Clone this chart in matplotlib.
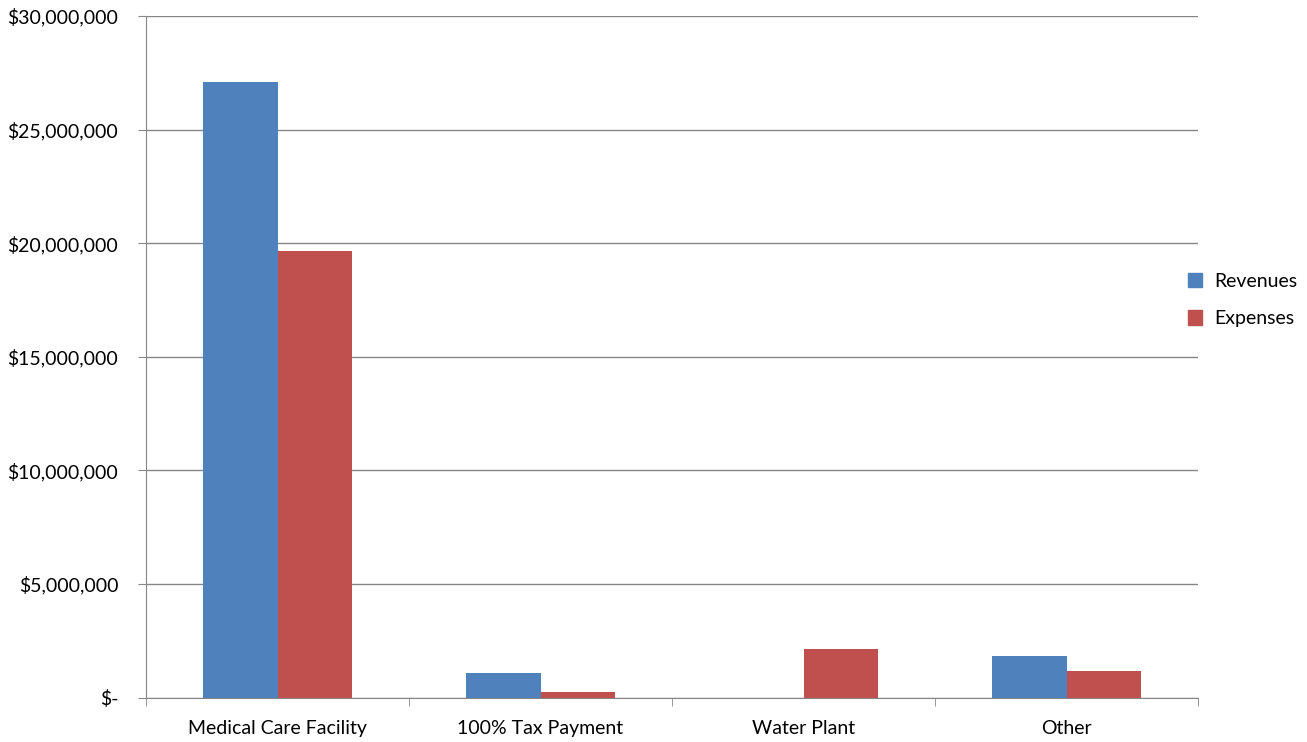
import matplotlib
matplotlib.use("Agg")
import matplotlib.pyplot as plt
import numpy as np
from matplotlib.patches import Patch

categories = ["Medical Care Facility", "100% Tax Payment", "Water Plant", "Other"]
revenues = [27100000, 1090000, 0, 1840000]
expenses = [19650000, 230000, 2140000, 1180000]
yticks = [0, 5000000, 10000000, 15000000, 20000000, 25000000, 30000000]
ytick_labels = ["$-", "$5,000,000", "$10,000,000", "$15,000,000", "$20,000,000", "$25,000,000", "$30,000,000"]

plt.rcParams['font.family'] = ['Lato', 'DejaVu Sans']
fig = plt.figure(figsize=(13.07, 7.42), dpi=100)
ax = fig.add_axes([146/1307, 1-697.5/742, (1198-146)/1307, (697.5-16)/742])

x = np.arange(len(categories))
w = 0.285
blue = "#4F81BD"
red = "#C0504D"
ax.bar(x - w/2, revenues, w, color=blue, zorder=3)
ax.bar(x + w/2, expenses, w, color=red, zorder=3)

fs = 14
ax.set_xlim(-0.5, len(categories) - 0.5)
ax.set_ylim(0, 30000000)
ax.set_yticks(yticks)
ax.set_yticklabels(ytick_labels, fontsize=fs)
ax.set_xticks(x)
ax.set_xticklabels(categories, fontsize=fs)
ax.tick_params(axis='x', length=0, pad=16)
ax.set_xticks(np.arange(-0.5, len(categories)), minor=True)
ax.tick_params(axis='x', which='minor', length=6, color="#868686", direction='out')
ax.tick_params(axis='y', length=6, color="#868686", pad=14)

ax.grid(axis='y', color="#868686", linewidth=1, zorder=0)
for s in ["top", "right"]:
    ax.spines[s].set_visible(False)
ax.spines["left"].set_color("#868686")
ax.spines["bottom"].set_color("#868686")

handles = [Patch(color=blue, label="Revenues"), Patch(color=red, label="Expenses")]
fig.legend(handles=handles, loc="center left", bbox_to_anchor=(1170/1307, 1-300/742),
           frameon=False, fontsize=fs, handlelength=0.75, handleheight=0.75,
           labelspacing=1.05, handletextpad=0.6)

fig.savefig("out.png", dpi=100)
